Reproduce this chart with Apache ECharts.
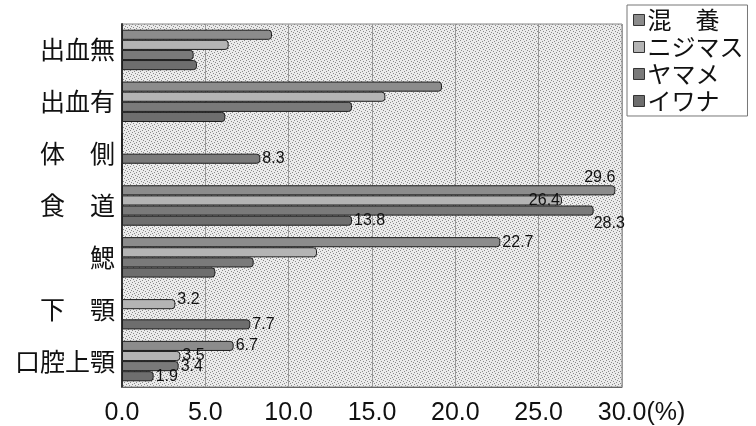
<!DOCTYPE html>
<html>
<head>
<meta charset="utf-8">
<script src="https://cdn.jsdelivr.net/npm/echarts@6/dist/echarts.min.js"></script>
<style>
html,body{margin:0;padding:0;background:#fff;}
#chart{width:756px;height:426px;}
</style>
</head>
<body>
<div id="chart"></div>
<script>
// ---- data ----
const categories = ['出血無', '出血有', '体　側', '食　道', '鰓', '下　顎', '口腔上顎'];
const seriesNames = ['混　養', 'ニジマス', 'ヤマメ', 'イワナ'];
const konyo    = [9.0, 19.2, 0, 29.6, 22.7, 0, 6.7];
const nijimasu = [6.4, 15.8, 0, 26.4, 11.7, 3.2, 3.5];
const yamame   = [4.3, 13.8, 8.3, 28.3, 7.9, 0, 3.4];
const iwana    = [4.5, 6.2, 0, 13.8, 5.6, 7.7, 1.9];
// category indexes that carry a value label
const konyoLabeled    = [3, 4, 6];
const nijimasuLabeled = [3, 5, 6];
const yamameLabeled   = [2, 3, 6];
const iwanaLabeled    = [3, 5, 6];
const xTicks = ['0.0', '5.0', '10.0', '15.0', '20.0', '25.0', '30.0'];
const unitText = '(%)';

// ---- styling ----
const numFont = "'Liberation Sans','Noto Sans',sans-serif";
const cjkFont = "'Noto Sans CJK JP','Noto Sans',sans-serif";
const colors = ['#8c8c8c', '#b4b4b4', '#7a7a7a', '#6e6e6e'];

// stipple texture for the plot wall (deterministic)
function makePattern() {
  const c = document.createElement('canvas');
  c.width = 6; c.height = 6;
  const g = c.getContext('2d');
  g.fillStyle = '#ebebeb'; g.fillRect(0, 0, 6, 6);
  g.fillStyle = '#8a8a8a';
  [[0,0],[3,1],[1,3],[4,4],[5,2],[2,5]].forEach(p => g.fillRect(p[0], p[1], 1, 1));
  return c;
}
const pattern = { image: makePattern(), repeat: 'repeat' };

const labelSpecial = {
  0: { 3: { position: ['100%', 0], align: 'right', verticalAlign: 'bottom', distance: 0 } },
  1: { 3: { position: 'insideRight' }, 5: { offset: [0, -5] } },
  2: { 3: { position: ['100%', '100%'], align: 'left', verticalAlign: 'top' } },
  3: {}
};

function buildData(values, labeled, si) {
  return values.map((v, i) => {
    const item = { value: v };
    if (labeled.indexOf(i) >= 0) {
      item.label = Object.assign({
        show: true, position: 'right', distance: 2,
        fontSize: 16, fontFamily: numFont, color: '#111',
        formatter: (p) => p.value.toFixed(1)
      }, (labelSpecial[si] || {})[i] || {});
    }
    return item;
  });
}

const allValues = [konyo, nijimasu, yamame, iwana];
const allLabeled = [konyoLabeled, nijimasuLabeled, yamameLabeled, iwanaLabeled];

const series = seriesNames.map((name, si) => ({
  name: name,
  type: 'bar',
  barGap: '0%',
  barCategoryGap: '22%',
  itemStyle: { color: colors[si], borderColor: '#1e1e1e', borderWidth: 1, borderRadius: [0, 3, 3, 0] },
  label: { show: false },
  data: buildData(allValues[si], allLabeled[si], si)
}));

// width of the unit text so the last tick value stays centred on its tick
const measureCtx = document.createElement('canvas').getContext('2d');
measureCtx.font = "25px " + numFont;
const unitW = Math.round(measureCtx.measureText(unitText).width);

const chart = echarts.init(document.getElementById('chart'), null, { renderer: 'canvas' });
chart.setOption({
  animation: false,
  backgroundColor: '#ffffff',
  legend: {
    orient: 'vertical',
    left: 627, top: 5,
    icon: 'rect',
    itemWidth: 11, itemHeight: 11, itemGap: 3,
    padding: [3, 4, 3, 6],
    backgroundColor: '#ffffff',
    borderColor: '#777', borderWidth: 1,
    textStyle: { fontSize: 24, fontFamily: cjkFont, color: '#111', padding: [0, 0, 0, -2] },
    itemStyle: { borderColor: '#333', borderWidth: 1 },
    data: seriesNames
  },
  grid: {
    left: 122, right: 134, top: 24, bottom: 35,
    show: true, backgroundColor: pattern, borderColor: '#888', borderWidth: 1
  },
  xAxis: {
    type: 'value', min: 0, max: 30, interval: 5,
    axisLine: { show: true, lineStyle: { color: '#666' } },
    axisTick: { show: false },
    splitLine: { show: true, lineStyle: { color: '#999', width: 1 } },
    axisLabel: {
      fontSize: 25, fontFamily: numFont, color: '#111', margin: 14,
      formatter: (v) => {
        const idx = Math.round(v / 5);
        if (idx === xTicks.length - 1) return '{a|' + xTicks[idx] + '}{u|' + unitText + '}';
        return xTicks[idx];
      },
      rich: {
        a: { fontSize: 25, fontFamily: numFont, color: '#111', padding: [0, 0, 0, unitW] },
        u: { fontSize: 25, fontFamily: numFont, color: '#111' }
      }
    }
  },
  yAxis: {
    type: 'category', inverse: true, data: categories,
    axisLine: { show: true, lineStyle: { color: '#333', width: 2 } },
    axisTick: { show: false },
    axisLabel: { fontSize: 25, fontFamily: cjkFont, color: '#111', margin: 7 }
  },
  series: series
});
</script>
</body>
</html>
